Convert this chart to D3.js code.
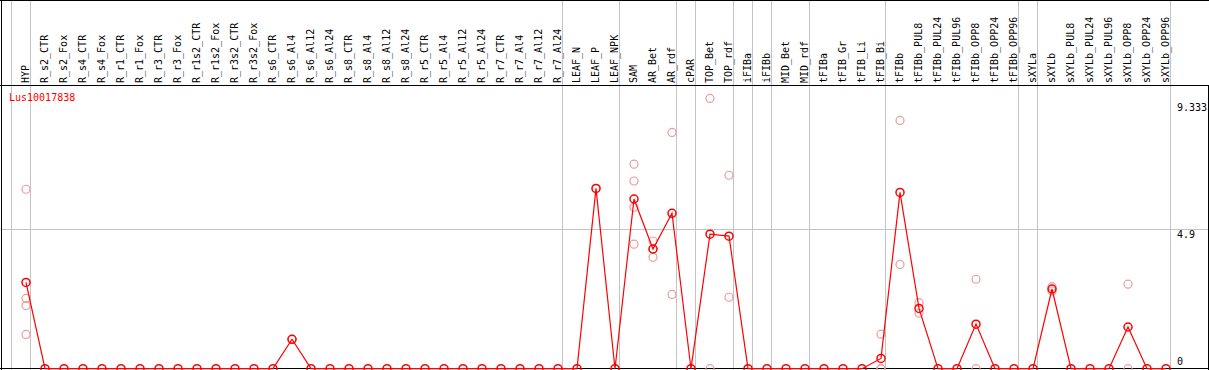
<!DOCTYPE html>
<html lang="en">
<head>
<meta charset="UTF-8">
<title>Lus10017838</title>
<script src="https://d3js.org/d3.v7.min.js"></script>
<style>
  body { margin: 0; background: #fff; }
  svg { display: block; }
  text { font-family: "DejaVu Sans Mono", monospace; font-size: 10px; }
</style>
</head>
<body>
<svg id="chart" width="1209" height="370"></svg>
<script>
  // Data
  const geneName = "Lus10017838";

  const samples = [
    "HYP", "R_s2_CTR", "R_s2_Fox", "R_s4_CTR", "R_s4_Fox", "R_r1_CTR", "R_r1_Fox",
    "R_r3_CTR", "R_r3_Fox", "R_r1s2_CTR", "R_r1s2_Fox", "R_r3s2_CTR", "R_r3s2_Fox",
    "R_s6_CTR", "R_s6_Al4", "R_s6_Al12", "R_s6_Al24", "R_s8_CTR", "R_s8_Al4",
    "R_s8_Al12", "R_s8_Al24", "R_r5_CTR", "R_r5_Al4", "R_r5_Al12", "R_r5_Al24",
    "R_r7_CTR", "R_r7_Al4", "R_r7_Al12", "R_r7_Al24", "LEAF_N", "LEAF_P", "LEAF_NPK",
    "SAM", "AR_Bet", "AR_rdf", "cPAR", "TOP_Bet", "TOP_rdf", "iFIBa", "iFIBb",
    "MID_Bet", "MID_rdf", "tFIBa", "tFIB_Gr", "tFIB_Li", "tFIB_Bi", "tFIBb",
    "tFIBb_PUL8", "tFIBb_PUL24", "tFIBb_PUL96", "tFIBb_OPP8", "tFIBb_OPP24", "tFIBb_OPP96",
    "sXYLa", "sXYLb", "sXYLb_PUL8", "sXYLb_PUL24", "sXYLb_PUL96", "sXYLb_OPP8",
    "sXYLb_OPP24", "sXYLb_OPP96"
  ];

  // mean expression per sample (red line)
  const means = [
    3.02, 0, 0, 0, 0, 0, 0, 0, 0, 0, 0, 0, 0,
    0, 1.03, 0, 0, 0, 0, 0, 0, 0, 0, 0, 0,
    0, 0, 0, 0, 0, 6.31, 0,
    5.94, 4.19, 5.44, 0, 4.71, 4.64, 0, 0,
    0, 0, 0, 0, 0, 0.36, 6.17,
    2.11, 0, 0, 1.56, 0, 0,
    0, 2.79, 0, 0, 0, 1.46,
    0, 0
  ];

  // replicate values per sample (pale circles)
  const replicates = [
    [6.28, 2.46, 2.21, 1.20], [], [], [], [], [], [], [], [], [], [], [], [],
    [], [1.03], [], [], [], [], [], [], [], [], [], [],
    [], [], [], [], [], [6.31], [],
    [7.16, 6.57, 5.65, 4.36], [4.47, 4.19, 3.90], [8.27, 2.60], [], [9.46, 0], [6.77, 2.50], [], [],
    [], [], [], [], [], [1.21, 0, 0], [8.69, 3.65],
    [2.31, 1.94], [], [], [3.13, 0], [], [],
    [], [2.87, 2.72], [], [], [], [2.96, 0],
    [], []
  ];

  // index of the last sample in each group (vertical separators)
  const groupEnds = [-1, 0, 28, 31, 34, 35, 37, 38, 39, 41, 45, 52, 53, 60];

  const yTicks = [0, 4.9, 9.333];

  // Layout
  const W = 1209, H = 370;
  const headerBottom = 85;
  const frameRight = 1208;

  const svg = d3.select("#chart");

  const x = d3.scaleLinear().domain([0, samples.length - 1]).range([26, 1166]);
  const y = d3.scaleLinear().domain([0, 4.9]).range([368.7, 228.7]);

  // clip for plot area
  svg.append("clipPath").attr("id", "plotClip")
    .append("rect").attr("x", 0).attr("y", headerBottom).attr("width", W).attr("height", H - headerBottom);

  // horizontal grid at 4.9
  svg.append("line")
    .attr("x1", 1).attr("x2", frameRight)
    .attr("y1", Math.round(y(4.9)) + 0.5).attr("y2", Math.round(y(4.9)) + 0.5)
    .attr("stroke", "#c4c4c4").attr("stroke-width", 1);

  // vertical group separators
  svg.selectAll(".sep")
    .data(groupEnds)
    .enter().append("line")
    .attr("class", "sep")
    .attr("x1", d => Math.round(x(d) + 4) + 0.5)
    .attr("x2", d => Math.round(x(d) + 4) + 0.5)
    .attr("y1", 0).attr("y2", H)
    .attr("stroke", "#c4c4c4").attr("stroke-width", 1);

  // frame
  const frame = svg.append("g").attr("stroke", "#000").attr("stroke-width", 1);
  frame.append("line").attr("x1", 0).attr("x2", W).attr("y1", 0.5).attr("y2", 0.5);
  frame.append("line").attr("x1", 0).attr("x2", W).attr("y1", headerBottom + 0.5).attr("y2", headerBottom + 0.5);
  frame.append("line").attr("x1", 0).attr("x2", W).attr("y1", 368.5).attr("y2", 368.5);
  frame.append("line").attr("x1", 1.5).attr("x2", 1.5).attr("y1", 0).attr("y2", H);
  frame.append("line").attr("x1", frameRight + 0.5).attr("x2", frameRight + 0.5).attr("y1", headerBottom).attr("y2", H);

  // column labels
  svg.selectAll(".collabel")
    .data(samples)
    .enter().append("text")
    .attr("class", "collabel")
    .attr("transform", (d, i) => `translate(${x(i) + 3},${headerBottom - 2}) rotate(-90)`)
    .attr("fill", "#000")
    .text(d => d);

  // y labels
  svg.selectAll(".ylabel")
    .data(yTicks)
    .enter().append("text")
    .attr("class", "ylabel")
    .attr("x", 1177)
    .attr("y", d => d === 0 ? y(d) - 4 : y(d) + 9)
    .attr("fill", "#000")
    .text(d => d);

  // gene name
  svg.append("text")
    .attr("x", 9).attr("y", 101)
    .attr("fill", "#ff0000")
    .text(geneName);

  const plot = svg.append("g").attr("clip-path", "url(#plotClip)");

  // replicate points
  const repPoints = [];
  replicates.forEach((arr, i) => arr.forEach(v => repPoints.push({ i, v })));

  plot.selectAll(".rep")
    .data(repPoints)
    .enter().append("circle")
    .attr("class", "rep")
    .attr("cx", d => x(d.i))
    .attr("cy", d => y(d.v))
    .attr("r", 4)
    .attr("fill", "none")
    .attr("stroke", "#ec9a9a")
    .attr("stroke-width", 1.2);

  // mean line
  const line = d3.line()
    .x((d, i) => x(i))
    .y(d => y(d));

  plot.append("path")
    .datum(means)
    .attr("d", line)
    .attr("fill", "none")
    .attr("stroke", "#ff0000")
    .attr("stroke-width", 1.2);

  plot.selectAll(".mean")
    .data(means)
    .enter().append("circle")
    .attr("class", "mean")
    .attr("cx", (d, i) => x(i))
    .attr("cy", d => y(d))
    .attr("r", 4)
    .attr("fill", "none")
    .attr("stroke", "#ff0000")
    .attr("stroke-width", 1.5);
</script>
</body>
</html>
